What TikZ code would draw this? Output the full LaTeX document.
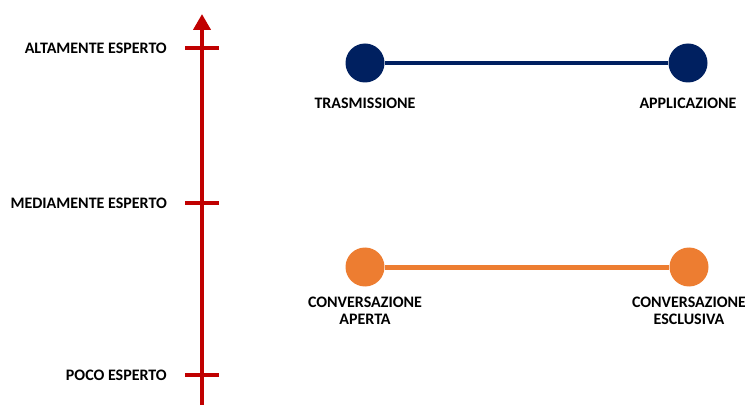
\documentclass[tikz,border=0pt]{standalone}
\usepackage{fontspec}
\setmainfont{Carlito}
\usepackage{tikz}
\usetikzlibrary{arrows.meta}
\usepackage{xcolor}

\definecolor{axisred}{HTML}{C00000}
\definecolor{darknavy}{HTML}{002060}
\definecolor{warmorange}{HTML}{ED7D31}

\tikzset{
    levellabel/.style={font=\bfseries\fontsize{16}{17}\selectfont, anchor=east, inner sep=0pt},
    dot/.style={circle, minimum size=39pt, inner sep=0pt},
    roletag/.style={font=\bfseries\fontsize{16}{17}\selectfont, align=center, inner sep=0pt},
}

\begin{document}
\begin{tikzpicture}[x=1pt, y=1pt]
                \useasboundingbox (0,0) rectangle (745,405);

                % asse verticale
                \coordinate (axisbot) at (202,0);
                \coordinate (axistop) at (202,391);
                \draw[axisred, line width=4.5pt, -{Triangle[length=16pt, width=17pt]}] (axisbot) -- (axistop);

                \foreach \y/\txt/\name in {357/ALTAMENTE ESPERTO/alto, 202/MEDIAMENTE ESPERTO/medio, 30/POCO ESPERTO/poco} {
                        \coordinate (\name-l) at (185,\y);
                        \coordinate (\name-r) at (219,\y);
                        \draw[axisred, line width=4.5pt] (\name-l) -- (\name-r);
                        \node[levellabel] (\name) at (167,\y) {\txt};
                    }

                % trasmissione - applicazione
                \node[dot, fill=darknavy] (trasm) at (365,342) {};
                \node[dot, fill=darknavy] (appl) at (688,342) {};
                \draw[darknavy, line width=4pt] (trasm) -- (appl);
                \node[roletag] (trasm-t) at (365,302) {TRASMISSIONE};
                \node[roletag] (appl-t) at (688,302) {APPLICAZIONE};

                % conversazione
                \node[dot, fill=warmorange] (aperta) at (365,138) {};
                \node[dot, fill=warmorange] (esclusiva) at (689,138) {};
                \draw[warmorange, line width=5pt] (aperta) -- (esclusiva);
                \node[roletag] (aperta-t) at (365,94.5) {CONVERSAZIONE\\APERTA};
                \node[roletag] (esclusiva-t) at (689,94.5) {CONVERSAZIONE\\ESCLUSIVA};
\end{tikzpicture}
\end{document}
